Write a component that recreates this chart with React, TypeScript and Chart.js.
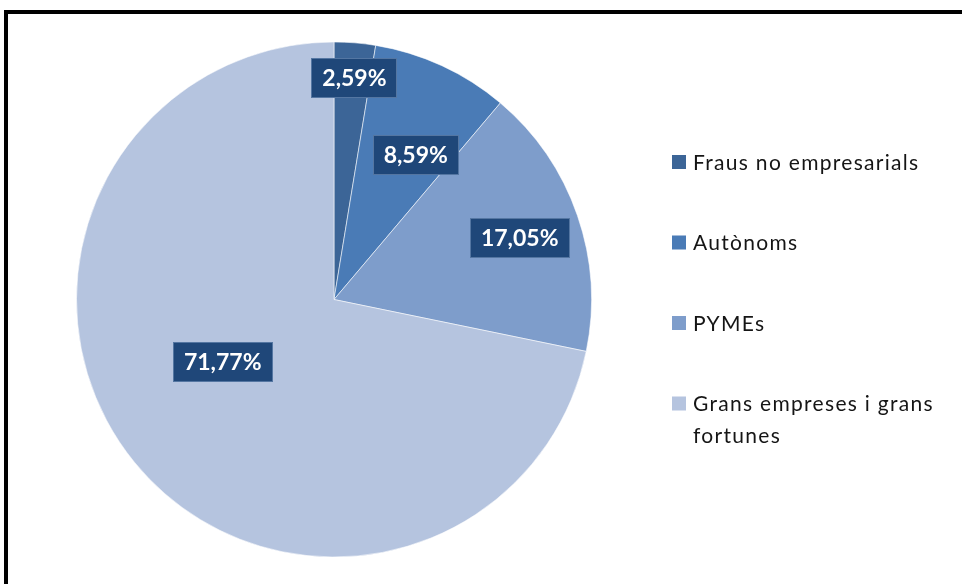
import { useEffect, useRef } from "react";
import { Chart, registerables } from "chart.js";

Chart.register(...registerables);

// ---- data ----
const categories = ["Fraus no empresarials", "Autònoms", "PYMEs", "Grans empreses i grans fortunes"];
const values = [2.59, 8.59, 17.05, 71.77];
const valueLabels = ["2,59%", "8,59%", "17,05%", "71,77%"];
const sliceColors = ["#3c6597", "#4a7bb6", "#7e9dcb", "#b5c4df"];

// label placement (fraction of radius, angle shift in degrees) — style only
const labelRadiusFrac = [0.865, 0.645, 0.76, 0.495];
const labelAngleShift = [0.6, 4.7, 0.7, 10];

const valueLabelPlugin = {
  id: "valueLabels",
  afterDatasetsDraw(chart: any) {
    const ctx = chart.ctx;
    const meta = chart.getDatasetMeta(0);
    ctx.save();
    ctx.font = "bold 23px Lato";
    ctx.textAlign = "center";
    ctx.textBaseline = "middle";
    meta.data.forEach((arc: any, i: number) => {
      const p = arc.getProps(["x", "y", "startAngle", "endAngle", "outerRadius"], true);
      const mid = (p.startAngle + p.endAngle) / 2 + (labelAngleShift[i] * Math.PI) / 180;
      const r = p.outerRadius * labelRadiusFrac[i];
      const cx = p.x + Math.cos(mid) * r;
      const cy = p.y + Math.sin(mid) * r;
      const text = valueLabels[i];
      const tw = ctx.measureText(text).width;
      const w = Math.round(tw + 22);
      const h = 40;
      ctx.fillStyle = "#1f4779";
      ctx.fillRect(Math.round(cx - w / 2), Math.round(cy - h / 2), w, h);
      ctx.strokeStyle = "rgba(120,150,190,0.6)";
      ctx.lineWidth = 1;
      ctx.strokeRect(Math.round(cx - w / 2) + 0.5, Math.round(cy - h / 2) + 0.5, w - 1, h - 1);
      ctx.fillStyle = "#ffffff";
      ctx.fillText(text, cx, cy + 1);
    });
    ctx.restore();
  },
};

const legendPlugin = {
  id: "sideLegend",
  afterDraw(chart: any) {
    const ctx = chart.ctx;
    const x0 = 672;
    const y0 = 162;
    const gap = 80.5;
    const lineH = 32;
    const maxW = 262;
    ctx.save();
    ctx.font = "21px Lato";
    (ctx as any).letterSpacing = "1.3px";
    ctx.textBaseline = "middle";
    ctx.textAlign = "left";
    const labels: string[] = chart.data.labels;
    const colors: string[] = chart.data.datasets[0].backgroundColor;
    labels.forEach((lab, i) => {
      const y = y0 + i * gap;
      ctx.fillStyle = colors[i];
      ctx.fillRect(x0, y - 7, 14, 14);
      const words = lab.split(" ");
      const lines: string[] = [];
      let cur = "";
      words.forEach((wd) => {
        const test = cur ? cur + " " + wd : wd;
        if (ctx.measureText(test).width > maxW && cur) {
          lines.push(cur);
          cur = wd;
        } else cur = test;
      });
      if (cur) lines.push(cur);
      ctx.fillStyle = "#151515";
      lines.forEach((ln, j) => ctx.fillText(ln, x0 + 21, y + 1 + j * lineH));
    });
    ctx.restore();
  },
};

export default function App() {
  const ref = useRef<HTMLCanvasElement | null>(null);
  useEffect(() => {
    if (!ref.current) return;
    const chart = new Chart(ref.current, {
      type: "pie",
      data: {
        labels: categories,
        datasets: [
          {
            data: values,
            backgroundColor: sliceColors,
            borderColor: "rgba(255,255,255,0.55)",
            borderWidth: 1,
          },
        ],
      },
      options: {
        animation: false,
        responsive: false,
        layout: { padding: { left: 76, right: 370, top: 41, bottom: 26 } },
        plugins: {
          legend: { display: false },
          tooltip: { enabled: false },
          title: { display: false },
        },
      },
      plugins: [valueLabelPlugin, legendPlugin],
    });
    return () => chart.destroy();
  }, []);
  return (
    <div style={{ position: "fixed", left: 0, top: 0, width: 962, height: 584, background: "#fff", overflow: "hidden" }}>
      <canvas ref={ref} width={962} height={584} style={{ position: "absolute", left: 0, top: 0 }} />
      <div
        style={{
          position: "absolute",
          left: 4,
          top: 10,
          width: 980,
          height: 700,
          borderLeft: "4px solid #000",
          borderTop: "4px solid #000",
          boxSizing: "border-box",
          pointerEvents: "none",
        }}
      />
    </div>
  );
}
